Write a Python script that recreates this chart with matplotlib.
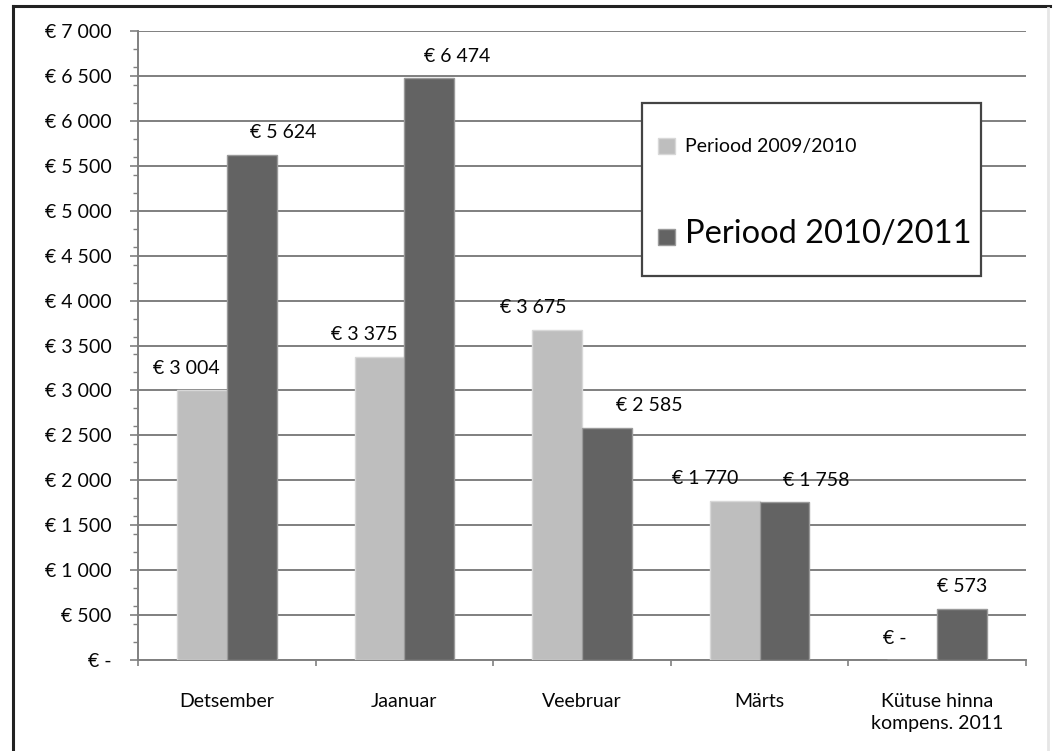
import matplotlib
matplotlib.use("Agg")
import matplotlib.pyplot as plt
from matplotlib.lines import Line2D
from matplotlib.patches import Patch, Rectangle
from matplotlib.ticker import MultipleLocator, FuncFormatter
import numpy as np

categories = ["Detsember", "Jaanuar", "Veebruar", "Märts", "Kütuse hinna\nkompens. 2011"]
series_names = ["Periood 2009/2010", "Periood 2010/2011"]
values_2009 = [3004, 3375, 3675, 1770, 0]
values_2010 = [5624, 6474, 2585, 1758, 573]

FONT = "Lato"
plt.rcParams['font.family'] = [FONT, 'DejaVu Sans']

LIGHT = "#bebebe"
DARK = "#636363"
TXT = "#050505"
FS = 14

def euro(v):
    if v == 0:
        return "€ -"
    return "€ " + f"{v:,.0f}".replace(",", " ")

fig = plt.figure(figsize=(10.53, 7.51), dpi=100)
W, H = 1053, 751
ax = fig.add_axes([138 / W, 1 - 660 / H, (1026 - 138) / W, (660 - 31) / H])

x = np.arange(len(categories))
bw = 0.28
off = 0.14
b1 = ax.bar(x - off, values_2009, bw, color=LIGHT, edgecolor="#d8d8d8", linewidth=1, zorder=3)
b2 = ax.bar(x + off, values_2010, bw, color=DARK, edgecolor="#9a9a9a", linewidth=1, zorder=3)

ax.set_xlim(-0.5, len(categories) - 0.5)
ax.set_ylim(0, 7000)
ax.yaxis.set_major_locator(MultipleLocator(500))
ax.yaxis.set_minor_locator(MultipleLocator(200))
ax.yaxis.set_major_formatter(FuncFormatter(lambda v, p: euro(v)))
ax.grid(axis="y", which="major", color="#7f7f7f", linewidth=1.4, zorder=1)
ax.set_axisbelow(True)

for s in ["top", "right"]:
    ax.spines[s].set_visible(False)
for s in ["left", "bottom"]:
    ax.spines[s].set_color("#808080")
    ax.spines[s].set_linewidth(1.4)

ax.tick_params(axis="y", which="major", length=6, width=1.2, color="#808080",
               pad=13, labelsize=FS, labelcolor=TXT)
ax.tick_params(axis="y", which="minor", length=3.5, width=1.0, color="#808080")
ax.set_xticks(np.arange(len(categories) + 1) - 0.5, minor=False)
ax.set_xticklabels([])
ax.set_xticks(x, minor=True)
ax.set_xticklabels(categories, minor=True, linespacing=1.35)
ax.tick_params(axis="x", which="major", length=4, width=1.2, color="#808080")
ax.tick_params(axis="x", which="minor", length=0, pad=24, labelsize=FS, labelcolor=TXT)

# data labels
dx_light = [-16, -15, -24, -30, -18]
dx_dark = [32, 28, 42, 32, 0]
for bars, vals, dxs in [(b1, values_2009, dx_light), (b2, values_2010, dx_dark)]:
    for rect, v, dx in zip(bars, vals, dxs):
        ax.annotate(euro(v), (rect.get_x() + rect.get_width() / 2, v),
                    xytext=(dx * 0.72, 22 * 0.72), textcoords="offset points",
                    ha="center", va="center", fontsize=FS, color=TXT, zorder=5)

# legend box (drawn inside the axes so the legend sits on top of it)
ax.add_patch(Rectangle((642 / W, 1 - 276 / H), (981 - 642) / W, (276 - 103) / H,
                       transform=fig.transFigure, facecolor="white", clip_on=False,
                       edgecolor="#444444", linewidth=1.6, zorder=9))
handles = [Patch(facecolor=LIGHT, edgecolor="#d8d8d8"), Patch(facecolor=DARK, edgecolor="#9a9a9a")]
leg = ax.legend(handles, series_names, loc="upper left",
                bbox_to_anchor=((658 - 138) / (1026 - 138), 1 - (138 - 31) / (660 - 31)),
                frameon=False, handlelength=0.95, handleheight=0.95, handletextpad=0.55,
                labelspacing=3.55, borderpad=0, borderaxespad=0, fontsize=13)
leg.get_texts()[0].set_fontsize(14)
leg.get_texts()[1].set_fontsize(23.5)
for t in leg.get_texts():
    t.set_color(TXT)
leg.set_zorder(10)

# outer frame
fig.add_artist(Line2D([13 / W, 13 / W], [0, 1 - 6 / H], color="#222222", linewidth=2.2))
fig.add_artist(Line2D([13 / W, 1050 / W], [1 - 6 / H, 1 - 6 / H], color="#222222", linewidth=2.2))
fig.add_artist(Line2D([1048 / W, 1048 / W], [0, 1 - 8 / H], color="#e6e6e6", linewidth=2))

fig.savefig("out.png", dpi=100)
